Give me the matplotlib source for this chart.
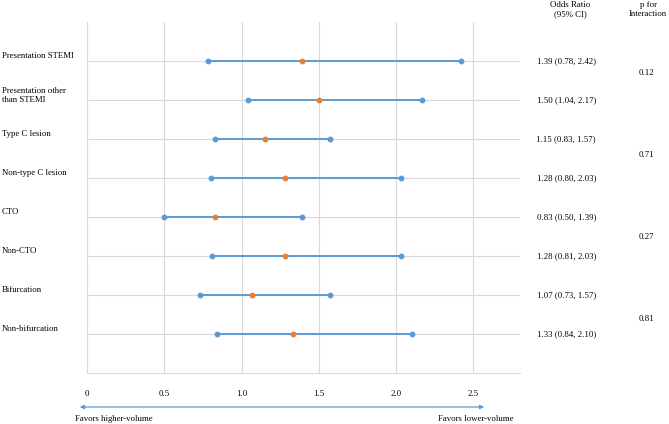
import matplotlib.pyplot as plt
from matplotlib.patches import FancyArrowPatch

plt.rcParams['font.family'] = ['Liberation Serif', 'DejaVu Serif']

# subgroup data
labels = ['Presentation STEMI', 'Presentation other\nthan STEMI', 'Type C lesion',
          'Non-type C lesion', 'CTO', 'Non-CTO', 'Bifurcation', 'Non-bifurcation']
odds = [1.39, 1.50, 1.15, 1.28, 0.83, 1.28, 1.07, 1.33]
lower = [0.78, 1.04, 0.83, 0.80, 0.50, 0.81, 0.73, 0.84]
upper = [2.42, 2.17, 1.57, 2.03, 1.39, 2.03, 1.57, 2.10]
p_values = ['0.12', '0.71', '0.27', '0.81']
p_rows = [1.3, 3.4, 5.5, 7.6]
xticks = [0, 0.5, 1.0, 1.5, 2.0, 2.5]
xtick_labels = ['0', '0.5', '1.0', '1.5', '2.0', '2.5']

blue = '#5B9BD5'
orange = '#ED7D31'
fs = 6.3

fig = plt.figure(figsize=(6.69, 4.24), dpi=100)
ax = fig.add_axes([0.130, 0.120, 0.647, 0.828])

rows = list(range(1, len(labels) + 1))
for r, lo, hi, o in zip(rows, lower, upper, odds):
    ax.plot([lo, hi], [r, r], color=blue, lw=1.4, zorder=3)
    ax.plot([lo, hi], [r, r], 'o', color=blue, ms=3.2, zorder=4)
    ax.plot(o, r, 'o', color=orange, ms=3.2, zorder=5)

ax.set_xlim(0, 2.8)
ax.set_ylim(9, 0)
ax.set_xticks(xticks)
ax.set_xticklabels(xtick_labels, fontsize=fs)
ax.set_yticks(rows)
ax.set_yticklabels([])
ax.tick_params(length=0, pad=12)
ax.grid(True, color='#D9D9D9', lw=0.8)
ax.set_axisbelow(True)
for s in ['top', 'right']:
    ax.spines[s].set_visible(False)
for s in ['left', 'bottom']:
    ax.spines[s].set_color('#D9D9D9')
    ax.spines[s].set_linewidth(0.8)

# row labels on the left
for r, lab in zip(rows, labels):
    ax.text(-0.55, r - 0.12, lab, fontsize=fs, ha='left', va='center', clip_on=False)

# OR column
for r, o, lo, hi in zip(rows, odds, lower, upper):
    ax.text(3.1, r, f'{o:.2f} ({lo:.2f}, {hi:.2f})', fontsize=fs, ha='center', va='center',
            clip_on=False)
fig.text(570 / 669, 1 - 1 / 424, 'Odds Ratio\n(95% CI)', fontsize=fs, ha='center', va='top')

# p for interaction column
for pr, pv in zip(p_rows, p_values):
    ax.text(3.62, pr, pv, fontsize=fs, ha='center', va='center', clip_on=False)
fig.text(648 / 669, 1 - 1 / 424, 'p for\nInteraction', fontsize=fs, ha='center', va='top')

# favors arrow
fig.patches.append(FancyArrowPatch(
    (77 / 669, 1 - 407 / 424), (487 / 669, 1 - 407 / 424), transform=fig.transFigure,
    arrowstyle='<|-|>', mutation_scale=6, color=blue, lw=0.9))
fig.text(75 / 669, 1 - 419 / 424, 'Favors higher-volume', fontsize=fs, ha='left', va='center')
fig.text(513 / 669, 1 - 419 / 424, 'Favors lower-volume', fontsize=fs, ha='right', va='center')

fig.savefig('out.png', dpi=100)
